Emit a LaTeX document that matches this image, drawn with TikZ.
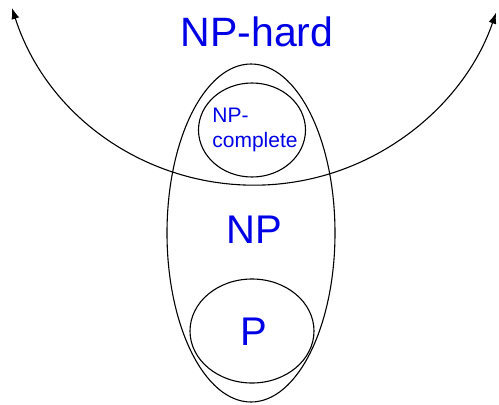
\documentclass[tikz,border=0pt]{standalone}
\usepackage{fontspec}
\setmainfont{Liberation Sans}
\usetikzlibrary{shapes.geometric,arrows.meta}
\definecolor{npblue}{RGB}{0,0,230}
\begin{document}
\begin{tikzpicture}[x=1pt,y=-1pt, line width=1.1pt,
  set/.style={draw, ellipse, inner sep=0pt},
  lbl/.style={text=npblue, inner sep=0pt}]
\fill[white] (0,0) rectangle (499,405);
\useasboundingbox (0,0) rectangle (499,405);
\node[set, minimum width=168pt, minimum height=338pt] (np) at (251,233) {};
\node[set, minimum width=107pt, minimum height=94pt] (npc) at (252,130) {};
\node[lbl, align=left, font=\fontsize{21}{25}\selectfont] (npclabel) at (255,130) {NP-\\complete};
\node[set, minimum width=124pt, minimum height=104pt] (p) at (252,331) {};
\node[lbl, font=\fontsize{40}{48}\selectfont] (plabel) at (254,332) {P};
\node[lbl, font=\fontsize{40}{48}\selectfont] (nplabel) at (254,230) {NP};
\node[lbl, font=\fontsize{41}{48}\selectfont] (nphard) at (257,32) {NP-hard};
\coordinate (hl) at (12,8);
\draw[{Latex[length=11pt,width=8pt]}-{Latex[length=11pt,width=8pt]}]
  (hl) arc[start angle=197.8, end angle=341.1, radius=255pt];
\end{tikzpicture}
\end{document}
